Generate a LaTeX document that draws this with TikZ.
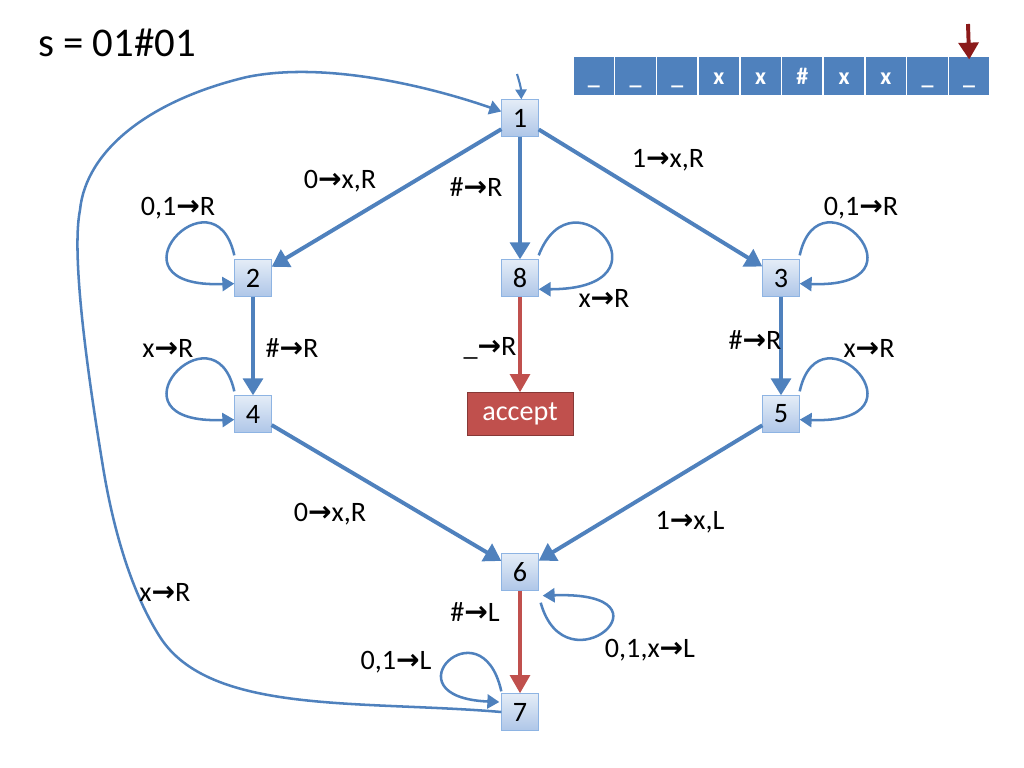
\documentclass[tikz,border=0pt]{standalone}
\usepackage{fontspec}
\setmainfont{Carlito}
\newfontfamily\arrowfont{DejaVu Sans}
\usetikzlibrary{arrows.meta}
\newcommand{\toarrow}{{\arrowfont\bfseries →}}
\definecolor{edgeblue}{HTML}{4F81BD}
\definecolor{edgered}{HTML}{C0504D}
\definecolor{boxtop}{HTML}{E4ECF7}
\definecolor{boxbottom}{HTML}{AFC7E8}
\definecolor{boxline}{HTML}{8EB4E3}
\definecolor{headred}{HTML}{8B1A1A}
\tikzstyle{state} = [draw=boxline, top color=boxtop, bottom color=boxbottom,
    rectangle, minimum size=0.92cm, inner sep=0pt, font=\fontsize{20}{24}\selectfont]
\tikzstyle{acceptbox} = [draw=edgered!70!black, fill=edgered, text=white,
    rectangle, minimum width=2.65cm, minimum height=1.07cm, font=\fontsize{20}{24}\selectfont]
\tikzstyle{cell} = [draw=white, fill=edgeblue, text=white, line width=1pt,
    minimum width=1.04cm, minimum height=1cm, inner sep=0pt, text height=12.8pt,
    text depth=0pt, font=\fontsize{17}{20}\selectfont\bfseries]
\tikzstyle{edge} = [draw=edgeblue, line width=2.8pt, -{Triangle[width=14pt,length=12pt]}]
\tikzstyle{rededge} = [draw=edgered, line width=2.8pt, -{Triangle[width=14pt,length=13pt]}]
\tikzstyle{loopedge} = [draw=edgeblue, line width=1.8pt, -{Triangle[width=10pt,length=8.5pt]}]
\tikzstyle{lab} = [inner sep=1pt, font=\fontsize{20}{24}\selectfont]

\begin{document}
\begin{tikzpicture}[x=0.025cm, y=-0.025cm]
    \useasboundingbox (0,0) rectangle (1024,768);
    % title and tape
    \node[anchor=base west, inner sep=0pt, font=\fontsize{29}{34}\selectfont] (title) at (38,57) {s = 01\#01};
    \foreach \s [count=\i] in {\_,\_,\_,x,x,\#,x,x,\_,\_}
        \node[cell] (c\i) at ({573+(\i-0.5)*41.7},76) {\s};
    \coordinate (headtop) at (968,24);
    \draw[draw=headred, line width=2.8pt, -{Triangle[width=14pt,length=12pt]}] (headtop) -- ([yshift=-3]c10.north);

    % states
    \node[state] (n1) at (520,118) {1};
    \node[state] (n2) at (253,278) {2};
    \node[state] (n8) at (520,278) {8};
    \node[state] (n3) at (781,278) {3};
    \node[state] (n4) at (253,414) {4};
    \node[acceptbox] (acc) at (520,414) {accept};
    \node[state] (n5) at (781,414) {5};
    \node[state] (n6) at (520,572) {6};
    \node[state] (n7) at (520,712) {7};

    % transitions
    \coordinate (init) at (517,74);
    \draw[draw=edgeblue, line width=1.5pt, -{Triangle[width=8pt,length=7pt]}] (init) to[bend left=8] (n1);
    \draw[edge] (n1) -- (n2);
    \draw[edge] (n1) -- (n8);
    \draw[edge] (n1) -- (n3);
    \draw[edge] (n2) -- (n4);
    \draw[edge] (n3) -- (n5);
    \draw[edge] (n4) -- (n6);
    \draw[edge] (n5) -- (n6);
    \draw[rededge] (n8) -- (acc);
    \draw[rededge] (n6) -- (n7);

    % loops
    \draw[loopedge] ([shift={(0,-4)}]n2.north west) .. controls +(-20,-90) and +(-135,5) .. ([yshift=-4]n2.west);
    \draw[loopedge] ([shift={(0,-4)}]n4.north west) .. controls +(-20,-90) and +(-135,5) .. ([yshift=-4]n4.west);
    \draw[loopedge] ([shift={(0,-4)}]n3.north east) .. controls +(20,-90) and +(135,5) .. ([yshift=-4]n3.east);
    \draw[loopedge] ([shift={(0,-4)}]n5.north east) .. controls +(20,-90) and +(135,5) .. ([yshift=-4]n5.east);
    \draw[loopedge] ([shift={(0,-4)}]n8.north east) .. controls +(35,-90) and +(140,0) .. ([yshift=-8]n8.east);
    \draw[loopedge] ([shift={(2,12)}]n6.south east) .. controls +(25,90) and +(140,-5) .. ([shift={(4,5)}]n6.south east);
    \draw[loopedge] ([shift={(0,-2)}]n7.north west) .. controls +(-20,-90) and +(-115,-5) .. ([shift={(-2,-10)}]n7.west);
    \draw[loopedge] (n7.west) .. controls (360,700) and (210,715) .. (160,637)
        .. controls (135,598) and (115,540) .. (103,467)
        .. controls (92,400) and (70,260) .. (80,210)
        .. controls (86,150) and (150,100) .. (247,77)
        .. controls (330,60) and (440,90) .. (n1);

    % labels
    \node[lab] (l12) at (340,181) {0\toarrow x,R};
    \node[lab] (l18) at (476,187) {\#\toarrow R};
    \node[lab] (l13) at (668,160) {1\toarrow x,R};
    \node[lab] (l22) at (178,208) {0,1\toarrow R};
    \node[lab] (l33) at (861,208) {0,1\toarrow R};
    \node[lab] (l88) at (604,298) {x\toarrow R};
    \node[lab] (l44) at (168,348) {x\toarrow R};
    \node[lab] (l24) at (292,348) {\#\toarrow R};
    \node[lab] (l8a) at (490,348) {\_\toarrow R};
    \node[lab] (l35) at (755,340) {\#\toarrow R};
    \node[lab] (l55) at (869,348) {x\toarrow R};
    \node[lab] (l46) at (330,514) {0\toarrow x,R};
    \node[lab] (l56) at (690,522) {1\toarrow x,L};
    \node[lab] (l71) at (165,592) {x\toarrow R};
    \node[lab] (l67) at (475,612) {\#\toarrow L};
    \node[lab] (l77) at (396,662) {0,1\toarrow L};
    \node[lab] (l66) at (650,650) {0,1,x\toarrow L};
\end{tikzpicture}
\end{document}
